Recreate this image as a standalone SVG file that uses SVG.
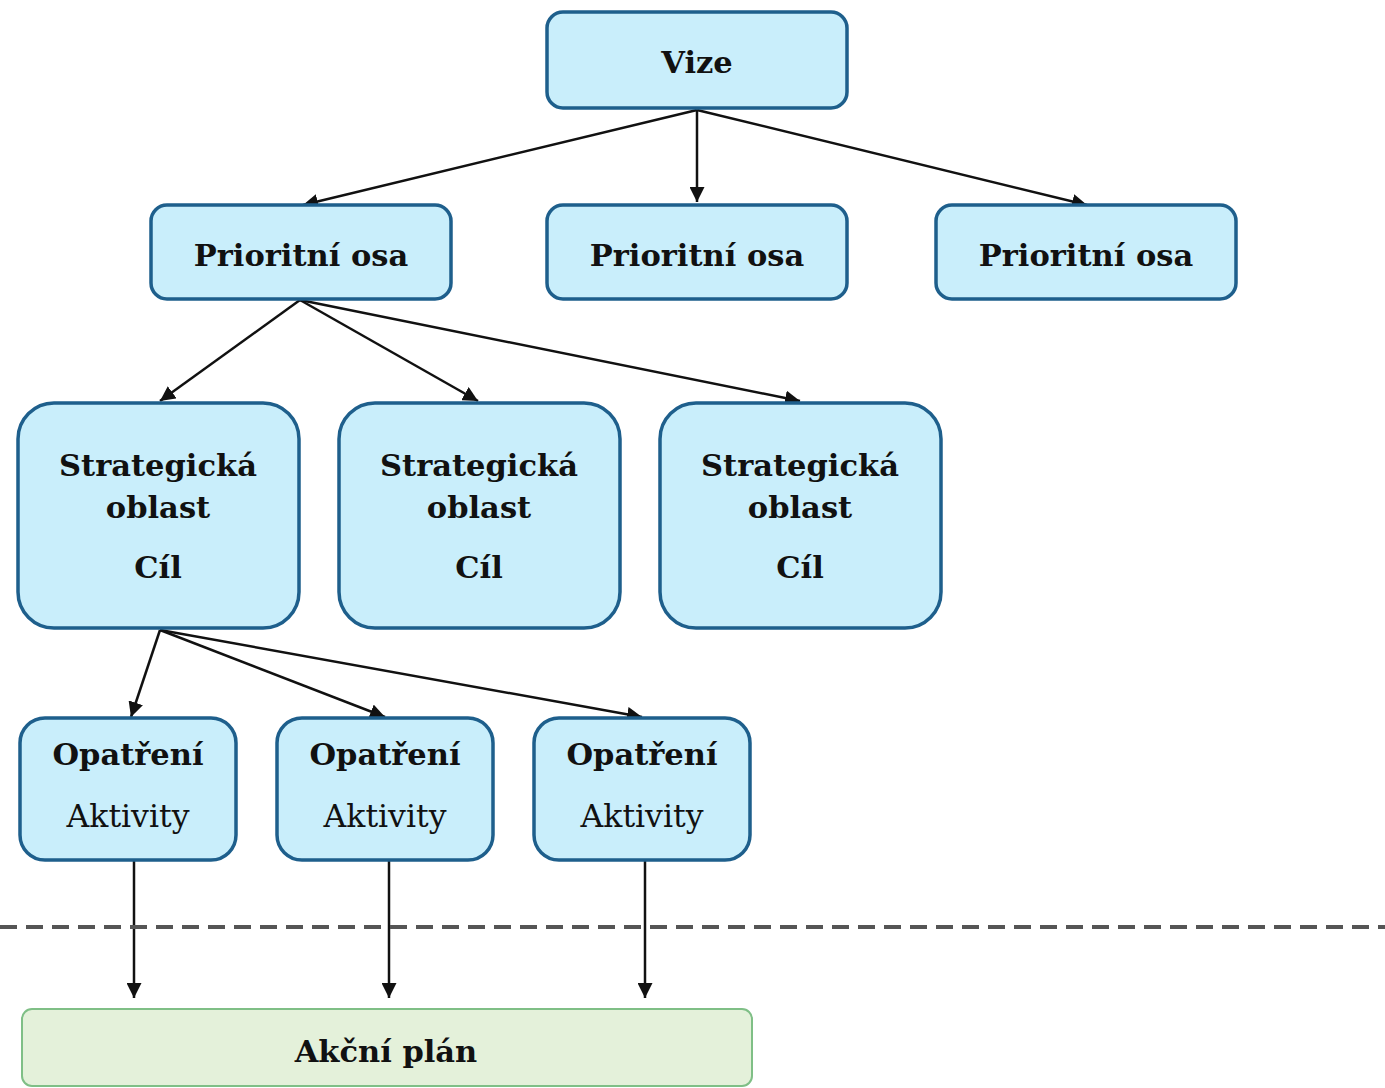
<svg xmlns="http://www.w3.org/2000/svg" width="1385" height="1088" viewBox="0 0 1385 1088">
<defs>
<marker id="ah" viewBox="0 0 10 10" refX="10" refY="5" markerWidth="6" markerHeight="6" markerUnits="strokeWidth" orient="auto">
<path d="M0,0 L10,5 L0,10 z" fill="#111"/>
</marker>
<style>
.box{fill:#c9eefb;stroke:#1e5f8c;stroke-width:3.5}
.plan{fill:#e4f1da;stroke:#7fbf86;stroke-width:2}
.t{font-family:"DejaVu Serif","Liberation Serif",serif;font-weight:bold;font-size:30.5px;fill:#111;text-anchor:middle}
.r{font-family:"DejaVu Serif","Liberation Serif",serif;font-size:31.5px;fill:#111;text-anchor:middle}
.c{stroke:#111;stroke-width:2.5;fill:none;marker-end:url(#ah)}
</style>
</defs>
<rect width="1385" height="1088" fill="#fff"/>
<g id="connectors">
<line class="c" x1="697" y1="110" x2="303" y2="205"/>
<line class="c" x1="697" y1="110" x2="697" y2="202"/>
<line class="c" x1="697" y1="110" x2="1087" y2="205"/>
<line class="c" x1="300" y1="300" x2="160" y2="401"/>
<line class="c" x1="300" y1="300" x2="478" y2="401"/>
<line class="c" x1="300" y1="300" x2="800" y2="401"/>
<line class="c" x1="160" y1="630" x2="131" y2="717"/>
<line class="c" x1="160" y1="630" x2="385" y2="717"/>
<line class="c" x1="160" y1="630" x2="642" y2="717"/>
<line class="c" x1="134" y1="860" x2="134" y2="998"/>
<line class="c" x1="389" y1="860" x2="389" y2="998"/>
<line class="c" x1="645" y1="860" x2="645" y2="998"/>
<line x1="0" y1="927" x2="1385" y2="927" stroke="#555" stroke-width="4" stroke-dasharray="17,9"/>
</g>
<g id="vize"><rect class="box" x="547" y="12" width="300" height="96" rx="16"/><text class="t" x="697" y="73">Vize</text></g>
<g id="osa1"><rect class="box" x="151" y="205" width="300" height="94" rx="16"/><text class="t" x="301" y="266">Prioritní osa</text></g>
<g id="osa2"><rect class="box" x="547" y="205" width="300" height="94" rx="16"/><text class="t" x="697" y="266">Prioritní osa</text></g>
<g id="osa3"><rect class="box" x="936" y="205" width="300" height="94" rx="16"/><text class="t" x="1086" y="266">Prioritní osa</text></g>
<g id="obl1"><rect class="box" x="18" y="403" width="281" height="225" rx="36"/><text class="t" x="158" y="476">Strategická</text><text class="t" x="158" y="518">oblast</text><text class="t" x="158" y="578">Cíl</text></g>
<g id="obl2"><rect class="box" x="339" y="403" width="281" height="225" rx="36"/><text class="t" x="479" y="476">Strategická</text><text class="t" x="479" y="518">oblast</text><text class="t" x="479" y="578">Cíl</text></g>
<g id="obl3"><rect class="box" x="660" y="403" width="281" height="225" rx="36"/><text class="t" x="800" y="476">Strategická</text><text class="t" x="800" y="518">oblast</text><text class="t" x="800" y="578">Cíl</text></g>
<g id="op1"><rect class="box" x="20" y="718" width="216" height="142" rx="25"/><text class="t" x="128" y="765">Opatření</text><text class="r" x="128" y="827">Aktivity</text></g>
<g id="op2"><rect class="box" x="277" y="718" width="216" height="142" rx="25"/><text class="t" x="385" y="765">Opatření</text><text class="r" x="385" y="827">Aktivity</text></g>
<g id="op3"><rect class="box" x="534" y="718" width="216" height="142" rx="25"/><text class="t" x="642" y="765">Opatření</text><text class="r" x="642" y="827">Aktivity</text></g>
<g id="plan"><rect class="plan" x="22" y="1009" width="730" height="77" rx="10"/><text class="t" x="386" y="1062">Akční plán</text></g>
</svg>
